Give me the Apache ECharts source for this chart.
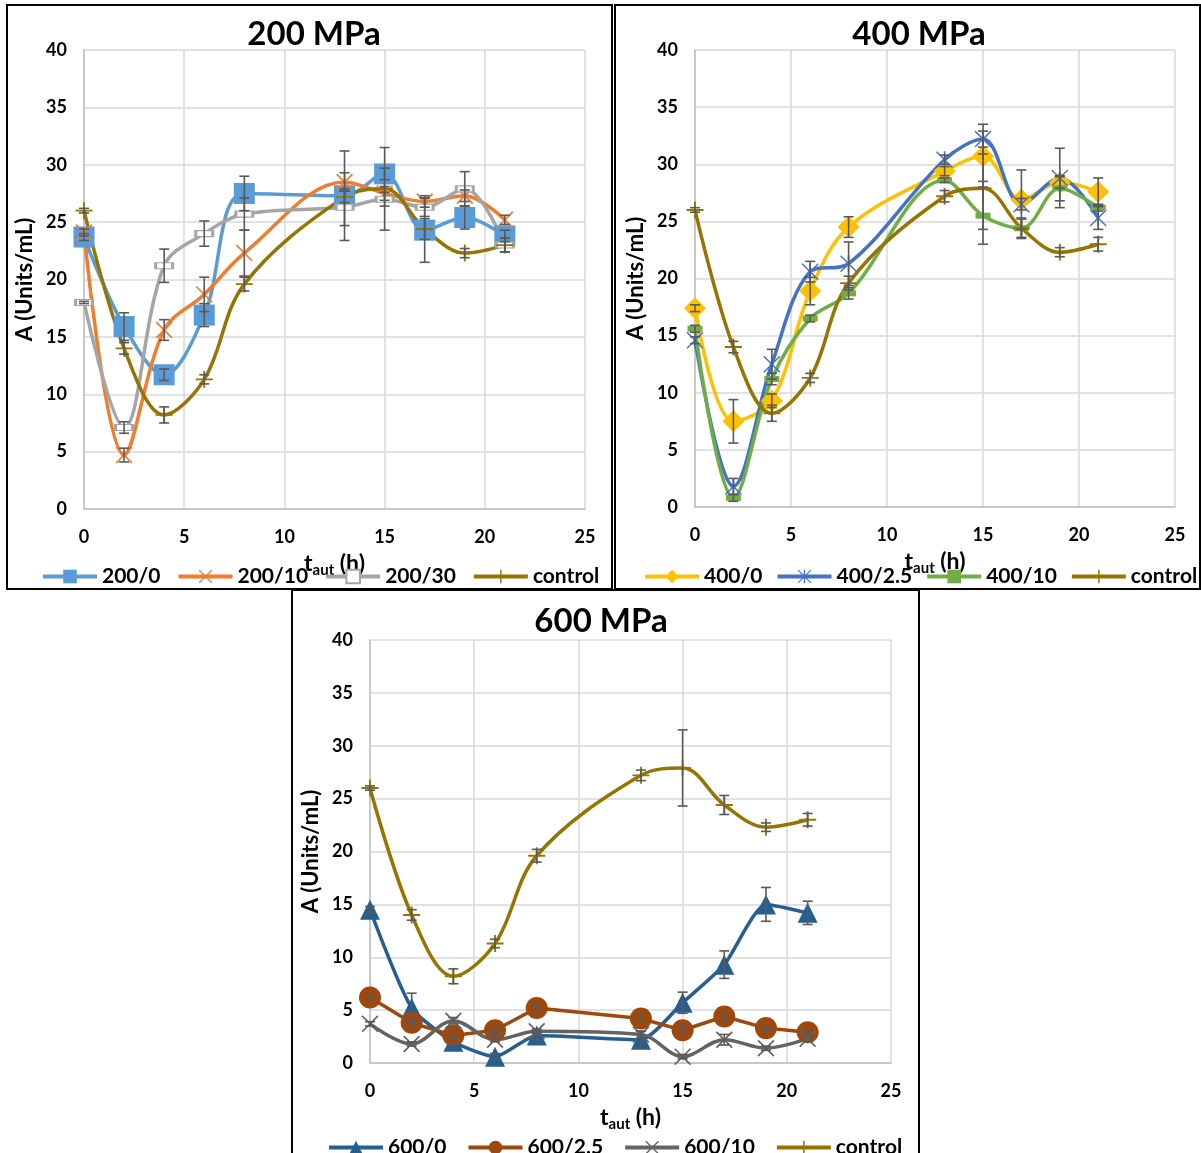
<!DOCTYPE html>
<html>
<head>
<meta charset="utf-8">
<script src="https://cdn.jsdelivr.net/npm/echarts@6/dist/echarts.min.js"></script>
<style>
html,body{margin:0;padding:0;background:#fff;}
#chart{width:1201px;height:1153px;}
</style>
</head>
<body>
<div id="chart"></div>
<script>
// ---- data ----
const times = [0, 2, 4, 6, 8, 13, 15, 17, 19, 21];
const xTicks = [0, 5, 10, 15, 20, 25];
const yTicks = [0, 5, 10, 15, 20, 25, 30, 35, 40];

const control    = [26.0, 14.0, 8.2, 11.3, 19.6, 27.2, 27.9, 24.4, 22.3, 23.0];
const controlErr = [0.2, 0.5, 0.7, 0.4, 0.6, 0.5, 3.6, 0.9, 0.4, 0.6];

const p200_0     = [23.7, 15.9, 11.7, 16.9, 27.5, 27.3, 29.2, 24.3, 25.4, 23.8];
const p200_0Err  = [0.3, 1.2, 0.5, 1.0, 1.5, 3.9, 0.5, 2.8, 1.0, 0.5];
const p200_10    = [24.1, 4.7, 15.6, 18.7, 22.3, 28.5, 27.5, 26.8, 27.3, 25.2];
const p200_10Err = [0.3, 0.6, 0.9, 1.5, 2.0, 0.8, 0.6, 0.5, 0.5, 0.4];
const p200_30    = [18.0, 7.1, 21.2, 24.0, 25.7, 26.3, 27.0, 26.3, 27.9, 23.0];
const p200_30Err = [0.1, 0.5, 1.45, 1.1, 1.4, 1.6, 0.6, 0.8, 1.5, 0.6];

const p400_0      = [17.4, 7.5, 9.3, 18.9, 24.5, 29.4, 30.7, 26.9, 28.4, 27.6];
const p400_0Err   = [0.3, 1.9, 0.6, 1.2, 0.9, 0.4, 2.2, 2.6, 0.5, 1.2];
const p400_25     = [14.6, 1.8, 12.5, 20.6, 21.3, 30.4, 32.2, 26.5, 28.8, 25.3];
const p400_25Err  = [0.3, 0.7, 1.3, 0.9, 1.9, 0.4, 1.3, 0.5, 2.6, 1.0];
const p400_10     = [15.6, 0.8, 11.2, 16.5, 18.7, 28.6, 25.5, 24.4, 27.9, 26.2];
const p400_10Err  = [0.3, 0.3, 0.5, 0.3, 0.5, 0.2, 2.5, 0.8, 1.1, 0.3];

const p600_0      = [14.5, 5.2, 2.0, 0.6, 2.6, 2.2, 5.7, 9.3, 15.0, 14.2];
const p600_0Err   = [0.3, 1.4, 0.3, 0.3, 0.4, 0.8, 1.0, 1.3, 1.6, 1.1];
const p600_25     = [6.2, 3.8, 2.6, 3.1, 5.2, 4.2, 3.1, 4.4, 3.3, 2.9];
const p600_25Err  = [0.2, 0.3, 0.2, 0.2, 0.3, 0.3, 0.3, 0.3, 0.2, 0.2];
const p600_10     = [3.7, 1.8, 4.0, 2.2, 3.0, 2.7, 0.6, 2.2, 1.4, 2.3];
const p600_10Err  = [0.2, 0.2, 0.3, 0.2, 0.2, 0.3, 0.2, 0.5, 0.2, 0.2];

const titles = ['200 MPa', '400 MPa', '600 MPa'];

// ---- styling ----
const FONT = 'Lato, "Liberation Sans", sans-serif';
const C_CONTROL = '#977400';
const PLUS = 'path://M0,4.45 L10,4.45 L10,5.55 L0,5.55 Z M4.45,0 L5.55,0 L5.55,10 L4.45,10 Z';
const XMARK = 'path://M0,0.7 L0.7,0 L10,9.3 L9.3,10 Z M9.3,0 L10,0.7 L0.7,10 L0,9.3 Z';
const STAR = 'path://M0,0.6 L0.6,0 L10,9.4 L9.4,10 Z M9.4,0 L10,0.6 L0.6,10 L0,9.4 Z M4.5,0 L5.5,0 L5.5,10 L4.5,10 Z';
const DASH = 'path://M0,0 L24,0 L24,9 L0,9 Z';

const grids = [
  {left: 84, top: 50, width: 501, height: 459},
  {left: 695, top: 50, width: 480, height: 457},
  {left: 370, top: 640, width: 521, height: 423}
];

function pairs(vals){ return times.map((t,i)=>[t, vals[i]]); }
function errData(vals, errs){ return times.map((t,i)=>[t, vals[i]-errs[i], vals[i]+errs[i]]); }

function errRender(params, api){
  const x = api.value(0), lo = api.value(1), hi = api.value(2);
  const a = api.coord([x, lo]), b = api.coord([x, hi]);
  const w = 5;
  const st = {stroke: '#595959', lineWidth: 1.6};
  return {type: 'group', children: [
    {type:'line', shape:{x1:a[0], y1:a[1], x2:b[0], y2:b[1]}, style: st},
    {type:'line', shape:{x1:a[0]-w, y1:a[1], x2:a[0]+w, y2:a[1]}, style: st},
    {type:'line', shape:{x1:b[0]-w, y1:b[1], x2:b[0]+w, y2:b[1]}, style: st}
  ]};
}

const series = [];
function addSeries(gi, name, vals, errs, color, symbol, size, extra){
  series.push({
    type: 'custom', xAxisIndex: gi, yAxisIndex: gi, z: 4,
    renderItem: errRender, data: errData(vals, errs),
    encode: {x: 0, y: [1, 2]}, silent: true
  });
  series.push(Object.assign({
    type: 'line', name: name, xAxisIndex: gi, yAxisIndex: gi,
    data: pairs(vals), smooth: 0.35, z: 3,
    symbol: symbol, symbolSize: size, showAllSymbol: true,
    lineStyle: {color: color, width: 3.5},
    itemStyle: {color: color, borderWidth: 0},
    animation: false
  }, extra || {}));
}

// panel 1
addSeries(0, '200/0', p200_0, p200_0Err, '#5B9BD5', 'rect', 21);
addSeries(0, '200/10', p200_10, p200_10Err, '#ED7D31', XMARK, 17);
addSeries(0, '200/30', p200_30, p200_30Err, '#A5A5A5', DASH, [17, 6],
  {itemStyle: {color: '#ffffff', borderColor: '#A5A5A5', borderWidth: 1.8}});
addSeries(0, 'control', control, controlErr, C_CONTROL, PLUS, 17);
// panel 2
addSeries(1, '400/0', p400_0, p400_0Err, '#FFC000', 'diamond', 22);
addSeries(1, '400/2.5', p400_25, p400_25Err, '#4472C4', STAR, 17);
addSeries(1, '400/10', p400_10, p400_10Err, '#70AD47', DASH, [15, 6]);
addSeries(1, 'control', control, controlErr, C_CONTROL, PLUS, 17);
// panel 3
addSeries(2, '600/0', p600_0, p600_0Err, '#255E91', 'triangle', 20, {smooth: 0.2});
addSeries(2, '600/2.5', p600_25, p600_25Err, '#9E480E', 'circle', 22, {smooth: false});
addSeries(2, '600/10', p600_10, p600_10Err, '#636363', XMARK, 17);
addSeries(2, 'control', control, controlErr, C_CONTROL, PLUS, 17);

const xAxes = grids.map((g, i) => ({
  type: 'value', gridIndex: i, min: xTicks[0], max: xTicks[xTicks.length-1], interval: 5,
  axisLine: {show: true, lineStyle: {color: '#BFBFBF', width: 1.5}},
  axisTick: {show: false},
  splitLine: {show: true, lineStyle: {color: '#D9D9D9', width: 1.5}},
  axisLabel: {color: '#000', fontFamily: FONT, fontWeight: 'bold', fontSize: 18, margin: 19},
  name: '{t|t}{s|aut}{t| (h)}', nameLocation: 'middle', nameGap: 40,
  nameTextStyle: {rich: {
    t: {fontFamily: FONT, fontWeight: 'bold', fontSize: 23, color: '#000'},
    s: {fontFamily: FONT, fontWeight: 'bold', fontSize: 15, color: '#000', verticalAlign: 'bottom', padding: [14, 0, 0, 0]}
  }}
}));
const yAxes = grids.map((g, i) => ({
  type: 'value', gridIndex: i, min: yTicks[0], max: yTicks[yTicks.length-1], interval: 5,
  axisLine: {show: true, lineStyle: {color: '#BFBFBF', width: 1.5}},
  axisTick: {show: false},
  splitLine: {show: true, lineStyle: {color: '#D9D9D9', width: 1.5}},
  axisLabel: {color: '#000', fontFamily: FONT, fontWeight: 'bold', fontSize: 18, margin: 17},
  name: 'A (Units/mL)', nameLocation: 'middle', nameGap: 48,
  nameTextStyle: {fontFamily: FONT, fontWeight: 'bold', fontSize: 22, color: '#000'}
}));

const legendBase = {
  itemWidth: 54, itemHeight: 17, itemGap: 13, width: 620,
  lineStyle: {width: 4},
  textStyle: {fontFamily: FONT, fontWeight: 'bold', fontSize: 21, color: '#000'},
  selectedMode: false
};

const titleStyle = {fontFamily: FONT, fontWeight: 'bold', fontSize: 33, color: '#000'};
const option = {
  animation: false,
  backgroundColor: '#fff',
  title: [
    {text: titles[0], left: 309, top: 13, textAlign: 'center', textStyle: titleStyle},
    {text: titles[1], left: 914, top: 13, textAlign: 'center', textStyle: titleStyle},
    {text: titles[2], left: 596, top: 600, textAlign: 'center', textStyle: titleStyle}
  ],
  grid: grids,
  xAxis: xAxes,
  yAxis: yAxes,
  legend: [
    Object.assign({}, legendBase, {data: ['200/0','200/10','200/30','control'], left: 36, top: 561, itemGap: 16}),
    Object.assign({}, legendBase, {data: ['400/0','400/2.5','400/10','control'], left: 638, top: 561}),
    Object.assign({}, legendBase, {data: ['600/0','600/2.5','600/10','control'], left: 322, top: 1132, itemGap: 20})
  ],
  graphic: [
    {type: 'rect', shape: {x: 7, y: 5, width: 605, height: 584}, style: {fill: 'none', stroke: '#000', lineWidth: 2}, z: 100},
    {type: 'rect', shape: {x: 615, y: 5, width: 585, height: 584}, style: {fill: 'none', stroke: '#000', lineWidth: 2}, z: 100},
    {type: 'rect', shape: {x: 292, y: 590, width: 627, height: 570}, style: {fill: 'none', stroke: '#000', lineWidth: 2}, z: 100}
  ],
  series: series
};

const chart = echarts.init(document.getElementById('chart'), null, {renderer: 'canvas'});
chart.setOption(option);
</script>
</body>
</html>
